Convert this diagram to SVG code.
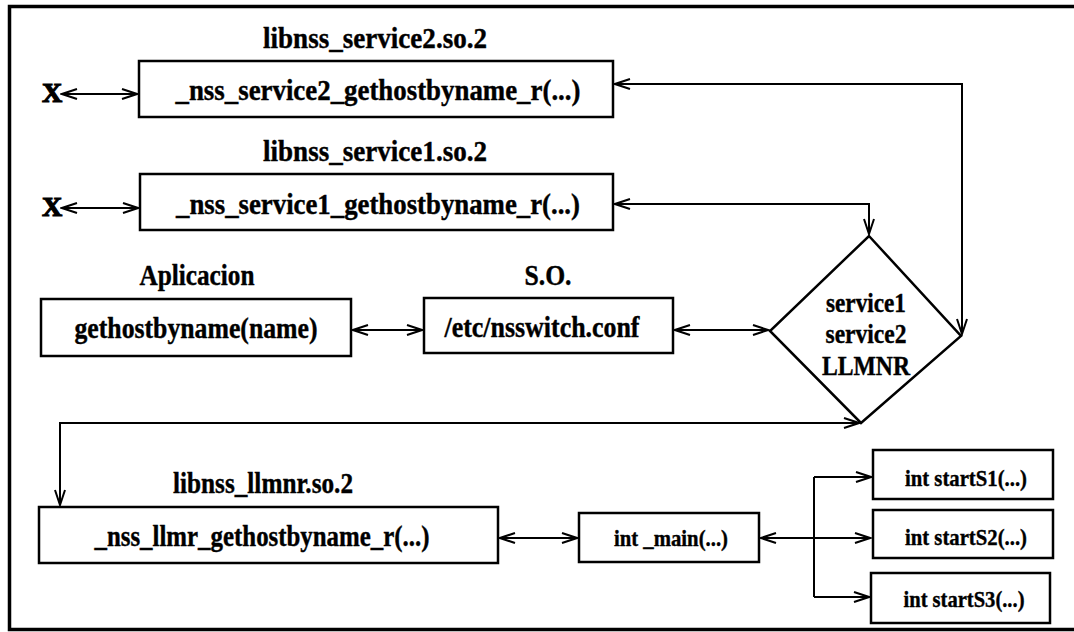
<svg xmlns="http://www.w3.org/2000/svg" width="1074" height="632" viewBox="0 0 1074 632">
  <defs>
    <style>
      text { font-family: "Liberation Serif", "Times New Roman", serif; font-weight: bold; fill: #000; stroke: #000; stroke-width: 0.4; text-anchor: middle; }
      .big { font-size: 29px; }
      .mid { font-size: 27px; }
      .sm { font-size: 23px; }
      .xl { font-size: 28px; stroke-width: 1.2; }
      .box { fill: #fff; stroke: #000; stroke-width: 2.5; }
      .wire { fill: none; stroke: #000; stroke-width: 2; }
    </style>
    <marker id="arr" viewBox="-17 -7 19 14" markerWidth="19" markerHeight="14" refX="0" refY="0" markerUnits="userSpaceOnUse" orient="auto-start-reverse">
      <path d="M-15,-5 L0,0 L-15,5" fill="none" stroke="#000" stroke-width="2"/>
    </marker>
  </defs>

  <rect x="0" y="0" width="1074" height="632" fill="#fff"/>
  <!-- outer frame -->
  <rect x="9.5" y="6.5" width="1075" height="623" fill="none" stroke="#000" stroke-width="3.5"/>

  <!-- connectors -->
  <g id="connectors" class="wire">
    <path d="M62,94 H137" marker-start="url(#arr)" marker-end="url(#arr)"/>
    <path d="M62,208 H138" marker-start="url(#arr)" marker-end="url(#arr)"/>
    <path d="M615,84 H962 V334" marker-start="url(#arr)" marker-end="url(#arr)"/>
    <path d="M615,204 H869 V234" marker-start="url(#arr)" marker-end="url(#arr)"/>
    <path d="M353,330 H422" marker-start="url(#arr)" marker-end="url(#arr)"/>
    <path d="M675,330 H768" marker-start="url(#arr)" marker-end="url(#arr)"/>
    <path d="M859,423 H60 V505" marker-start="url(#arr)" marker-end="url(#arr)"/>
    <path d="M500,538 H577" marker-start="url(#arr)" marker-end="url(#arr)"/>
    <path d="M761,538 H870" marker-start="url(#arr)" marker-end="url(#arr)"/>
    <path d="M814,477 V597"/>
    <path d="M814,477 H871" marker-end="url(#arr)"/>
    <path d="M814,597 H869" marker-end="url(#arr)"/>
  </g>

  <g id="x1"><text class="xl" x="52" y="102">X</text></g>
  <g id="x2"><text class="xl" x="52" y="216">X</text></g>

  <g id="service2">
    <text class="big" x="375" y="48" textLength="224" lengthAdjust="spacingAndGlyphs">libnss_service2.so.2</text>
    <rect class="box" x="139" y="61" width="474" height="56"/>
    <text class="big" x="378" y="100" textLength="405" lengthAdjust="spacingAndGlyphs">_nss_service2_gethostbyname_r(...)</text>
  </g>

  <g id="service1">
    <text class="big" x="375" y="161" textLength="224" lengthAdjust="spacingAndGlyphs">libnss_service1.so.2</text>
    <rect class="box" x="140" y="174" width="473" height="56"/>
    <text class="big" x="378" y="214" textLength="404" lengthAdjust="spacingAndGlyphs">_nss_service1_gethostbyname_r(...)</text>
  </g>

  <g id="aplicacion">
    <text class="big" x="197" y="285" textLength="115" lengthAdjust="spacingAndGlyphs">Aplicacion</text>
    <rect class="box" x="41" y="299" width="310" height="57"/>
    <text class="big" x="196" y="338" textLength="243" lengthAdjust="spacingAndGlyphs">gethostbyname(name)</text>
  </g>

  <g id="nsswitch">
    <text class="big" x="548" y="285" textLength="47" lengthAdjust="spacingAndGlyphs">S.O.</text>
    <rect class="box" x="424" y="298" width="249" height="55"/>
    <text class="big" x="542" y="337" textLength="195" lengthAdjust="spacingAndGlyphs">/etc/nsswitch.conf</text>
  </g>

  <g id="selector">
    <polygon class="box" points="869,236 961,336 861,423 770,331"/>
    <text class="mid" x="866" y="312" textLength="80" lengthAdjust="spacingAndGlyphs">service1</text>
    <text class="mid" x="866" y="343" textLength="81" lengthAdjust="spacingAndGlyphs">service2</text>
    <text class="mid" x="866" y="375" textLength="88" lengthAdjust="spacingAndGlyphs">LLMNR</text>
  </g>

  <g id="llmnr">
    <text class="big" x="263" y="493" textLength="180" lengthAdjust="spacingAndGlyphs">libnss_llmnr.so.2</text>
    <rect class="box" x="39" y="507" width="459" height="56"/>
    <text class="big" x="262" y="546" textLength="335" lengthAdjust="spacingAndGlyphs">_nss_llmr_gethostbyname_r(...)</text>
  </g>

  <g id="main">
    <rect class="box" x="579" y="513" width="180" height="49"/>
    <text class="sm" x="671" y="546" textLength="114" lengthAdjust="spacingAndGlyphs">int _main(...)</text>
  </g>

  <g id="startS1">
    <rect class="box" x="873" y="450" width="180" height="49"/>
    <text class="sm" x="966" y="486" textLength="122" lengthAdjust="spacingAndGlyphs">int startS1(...)</text>
  </g>

  <g id="startS2">
    <rect class="box" x="873" y="510" width="180" height="48"/>
    <text class="sm" x="966" y="545" textLength="122" lengthAdjust="spacingAndGlyphs">int startS2(...)</text>
  </g>

  <g id="startS3">
    <rect class="box" x="871" y="573" width="179" height="50"/>
    <text class="sm" x="964" y="607" textLength="121" lengthAdjust="spacingAndGlyphs">int startS3(...)</text>
  </g>
</svg>
